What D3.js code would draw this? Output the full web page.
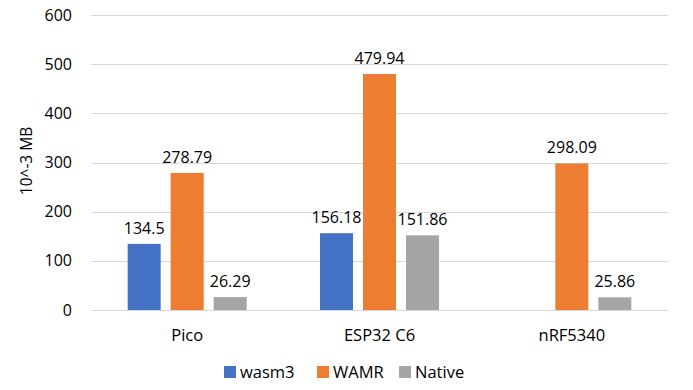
<!DOCTYPE html>
<html><head><meta charset="utf-8">
<script src="https://cdn.jsdelivr.net/npm/d3@7"></script>
<style>body{margin:0;background:#fff;} svg{display:block;font-family:"Open Sans","Noto Sans",sans-serif;}</style>
</head><body>
<svg id="c" width="693" height="390"></svg>
<script>
const categories = ["Pico", "ESP32 C6", "nRF5340"];
const seriesNames = ["wasm3", "WAMR", "Native"];
const wasm3 = [134.5, 156.18, null];
const wamr = [278.79, 479.94, 298.09];
const native = [26.29, 151.86, 25.86];
const yTicks = [0, 100, 200, 300, 400, 500, 600];
const colors = ["#4472C4", "#ED7D31", "#A5A5A5"];
const seriesValues = [wasm3, wamr, native];

(function () {
const svg = d3.select("#c");
const mLeft = 91, mRight = 668, mTop = 15, mBottom = 310;
const x = d3.scaleBand().domain(categories).range([mLeft, mRight]);
const y = d3.scaleLinear().domain([0, 600]).range([mBottom, mTop]);
const barW = 33, gap = 10;
const groupW = 3*barW + 2*gap;
const xs = d3.scaleBand().domain(seriesNames).range([0, groupW]).paddingInner(gap/(barW+gap));

// gridlines
svg.append("g").selectAll("line").data(yTicks).join("line")
  .attr("x1", mLeft).attr("x2", mRight)
  .attr("y1", d => Math.round(y(d)) + 0.5).attr("y2", d => Math.round(y(d)) + 0.5)
  .attr("stroke", "#d9d9d9").attr("stroke-width", 1);

// y tick labels
svg.append("g").selectAll("text").data(yTicks).join("text")
  .attr("x", 72).attr("y", d => y(d)).attr("dy", "0.35em")
  .attr("text-anchor", "end").attr("font-size", 16).attr("fill", "#000")
  .text(d => d);

// y title
svg.append("text").attr("transform", "translate(32,161) rotate(-90)")
  .attr("text-anchor", "middle").attr("font-size", 15.5).attr("fill", "#000").text("10^-3 MB");

// bars
seriesNames.forEach((s, si) => {
  const vals = seriesValues[si];
  const g = svg.append("g");
  categories.forEach((c, ci) => {
    const v = vals[ci];
    if (v == null) return;
    const bx = x(c) + (x.bandwidth() - groupW)/2 + xs(s);
    g.append("rect").attr("x", bx).attr("y", y(v)).attr("width", xs.bandwidth())
      .attr("height", y(0) - y(v)).attr("fill", colors[si]);
    g.append("text").attr("x", bx + xs.bandwidth()/2).attr("y", y(v) - 10)
      .attr("text-anchor", "middle").attr("font-size", 16).attr("fill", "#000")
      .text(v);
  });
});

// category labels
svg.append("g").selectAll("text").data(categories).join("text")
  .attr("x", d => x(d) + x.bandwidth()/2).attr("y", 335).attr("dy", "0.35em")
  .attr("text-anchor", "middle").attr("font-size", 16.5).attr("fill", "#000").text(d => d);

// legend
const legX = [224, 317, 399];
seriesNames.forEach((s, i) => {
  svg.append("rect").attr("x", legX[i]).attr("y", 366).attr("width", 12).attr("height", 12).attr("fill", colors[i]);
  svg.append("text").attr("x", legX[i] + 16).attr("y", 372).attr("dy", "0.35em")
    .attr("font-size", 16.5).attr("fill", "#000").text(s);
});
})();
</script>
</body></html>
